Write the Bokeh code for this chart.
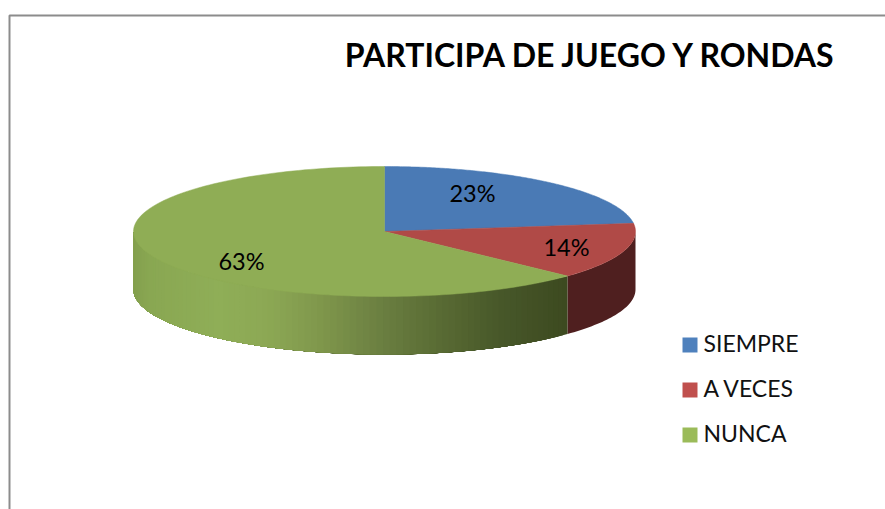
import numpy as np
from bokeh.plotting import figure
from bokeh.models import Range1d
from bokeh.core.properties import value
from bokeh.embed import file_html
from bokeh.resources import INLINE

categories = ["SIEMPRE", "A VECES", "NUNCA"]
percentages = [23, 14, 63]
title_text = "PARTICIPA DE JUEGO Y RONDAS"

top_colors = ["#4a7ab5", "#b04a47", "#8fad55"]
legend_colors = ["#4f81bd", "#c0504d", "#9bbb59"]
red_side = "#4f1f1f"
green_stops_x = [134, 150, 220, 270, 320, 384, 440, 500, 566]
green_stops_c = [(132, 160, 78), (137, 167, 82), (143, 174, 87), (140, 168, 84), (128, 152, 76),
                 (107, 127, 65), (90, 108, 52), (72, 88, 42), (61, 74, 32)]

CX, CY, RX, RY, DEPTH = 384, 231, 251, 65, 58
W, H = 885, 509

p = figure(width=W, height=H, output_backend="svg", toolbar_location=None,
           x_range=Range1d(0, W), y_range=Range1d(H, 0),
           min_border=0, outline_line_color=None)
p.axis.visible = False
p.grid.visible = False
p.background_fill_color = "#ffffff"


def ex(t):
    return CX + RX * np.sin(t)


def ey(t):
    return CY - RY * np.cos(t)


fracs = np.cumsum([0] + percentages) / sum(percentages) * 2 * np.pi

# frame
p.line([9, 9, 885], [509, 15, 15], line_color="#8c8c8c", line_width=2)

# red side wall
t = np.linspace(np.pi / 2, fracs[2], 40)
p.patch(np.r_[ex(t), ex(t)[::-1]], np.r_[ey(t), ey(t)[::-1] + DEPTH],
        fill_color=red_side, line_color=None)

# green side wall: each band runs to the far end, so later bands overlap earlier ones
edges = np.linspace(fracs[2], 1.5 * np.pi, 91)
arr = np.array(green_stops_c, dtype=float)
for a in edges[:-1]:
    s = np.linspace(a, 1.5 * np.pi, 50)
    c = [int(round(np.interp(ex(a), green_stops_x, arr[:, i]))) for i in range(3)]
    col = "#%02x%02x%02x" % tuple(c)
    p.patch(np.r_[ex(s), ex(s)[::-1]], np.r_[ey(s), ey(s)[::-1] + DEPTH],
            fill_color=col, line_color=None)

# top faces
for i in range(3):
    t = np.linspace(fracs[i], fracs[i + 1], 160)
    p.patch(np.r_[CX, ex(t)], np.r_[CY, ey(t)], fill_color=top_colors[i],
            line_color=top_colors[i], line_width=0.5)

FONT = value("Lato")
p.text([591], [54], text=[title_text], text_font=FONT, text_font_style="bold",
       text_font_size="32px", text_color="#000000", text_align="center", text_baseline="middle")

lab_x = [472, 566, 241]
lab_y = [192, 246.5, 260]
p.text(lab_x, lab_y, text=["%d%%" % v for v in percentages], text_font=FONT, text_font_size="23.5px",
       text_color="#000000", text_align="center", text_baseline="middle")

leg_y = [344.5, 389.5, 434.5]
p.rect([689.5] * 3, leg_y, width=15, height=15, fill_color=legend_colors, line_color=None)
p.text([703] * 3, [v - 2 for v in leg_y], text=categories, text_font=FONT, text_font_size="23px",
       text_color="#111111", text_align="left", text_baseline="middle")

open("out.html", "w").write(file_html(p, INLINE))
